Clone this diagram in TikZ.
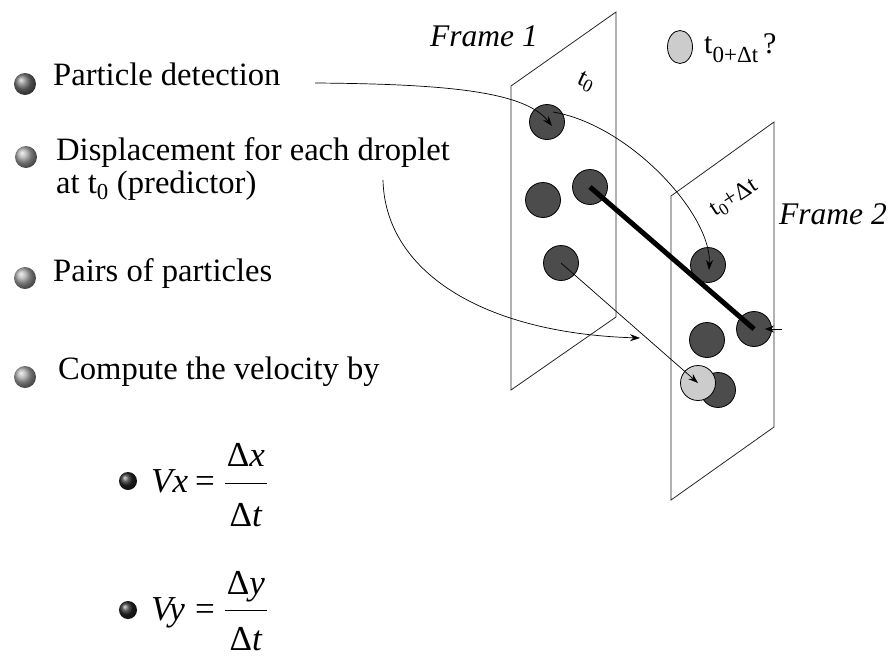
\documentclass[tikz,border=0pt]{standalone}
\usepackage{fontspec}
\setmainfont{Liberation Serif}
\usetikzlibrary{arrows.meta,shapes.geometric}
\begin{document}
\begin{tikzpicture}[x=1pt,y=-1pt,
  darkp/.style={circle,draw=black,fill=black!70,line width=0.8pt,minimum size=35pt,inner sep=0pt},
  lightp/.style={circle,draw=black,fill=black!20,line width=0.8pt,minimum size=35pt,inner sep=0pt},
  plane/.style={draw=black!85,line width=0.8pt},
  conn/.style={line width=0.7pt,-{Stealth[length=10pt,width=7pt]}},
  lbl/.style={font=\fontsize{32.6}{38}\selectfont,anchor=base west,inner sep=0pt},
  flbl/.style={font=\fontsize{31.5}{36}\selectfont\itshape,anchor=base west,inner sep=0pt},
  tlbl/.style={font=\fontsize{26}{30}\selectfont,inner sep=0pt},
  bul/.style={circle,ball color=black!35,minimum size=22pt,inner sep=0pt},
  fbul/.style={circle,ball color=black!85,minimum size=18pt,inner sep=0pt},
  eqn/.style={font=\fontsize{35}{40}\selectfont,anchor=base west,inner sep=0pt},
  frac/.style={font=\fontsize{35}{40}\selectfont,anchor=base,inner sep=0pt}]
\useasboundingbox (0,0) rectangle (894,659);

% frames
\draw[plane] (511,86) -- (616,12) -- (616,317) -- (511,390) -- cycle;
\draw[plane] (671,196) -- (774,122) -- (774,427) -- (671,500) -- cycle;

% frame labels
\node[flbl] (f1) at (430,46) {Frame 1};
\node[flbl] (f2) at (779,224) {Frame 2};
\node[tlbl,rotate=-25] (t0) at (586,82) {t\textsubscript{0}};
\node[tlbl,rotate=33,font=\fontsize{24}{28}\selectfont] (t1) at (734,198) {t\textsubscript{0}+Δt};

% legend
\node[lightp,ellipse,minimum width=25pt,minimum height=33pt] (leg) at (680,47) {};
\node[tlbl,anchor=base west,font=\fontsize{30}{34}\selectfont] (legt) at (704,53) {t\raisebox{-9pt}{\fontsize{23}{28}\selectfont 0+Δt}\,?};

% particles frame 1
\node[darkp] (p1) at (547,122) {};
\node[darkp] (p2) at (543,200) {};
\node[darkp] (p3) at (590,187) {};
\node[darkp] (p4) at (561,263) {};

% particles frame 2
\node[darkp] (q1) at (708,265) {};
\node[darkp] (q2) at (754,329) {};
\node[darkp] (q3) at (707,340) {};
\node[darkp] (q4) at (718,390) {};
\node[lightp] (q5) at (698,383) {};

% connectors between particles
\draw[line width=5pt] (p3.center) -- (q2.center);
\draw[conn] (p4.center) -- (q5.center);
\coordinate (q2r) at (782,329);
\coordinate (q2t) at (765,329);
\draw[conn,-{Stealth[length=9pt,width=7pt]}] (q2r) -- (q2t);
\coordinate (arcs) at (553,112);
\coordinate (q1t) at (709,270);
\draw[conn] (arcs) .. controls (630,125) and (712,215) .. (q1t);

% left labels
\node[bul,ball color=black!55] (b1) at (25,84) {};
\node[lbl] (l1) at (53,85) {Particle detection};
\node[bul] (b2) at (26,157) {};
\node[lbl] (l2) at (56,160) {Displacement for each droplet};
\node[lbl] (l2b) at (56,193) {at t\textsubscript{0} (predictor)};
\node[bul] (b3) at (25,278) {};
\node[lbl] (l3) at (53,281) {Pairs of particles};
\node[bul] (b4) at (25,377) {};
\node[lbl] (l4) at (58,379) {Compute the velocity by};

% curves from labels
\coordinate (pds) at (315,83);
\coordinate (p1t) at (552,126);
\draw[conn] (pds) .. controls (450,84) and (525,92) .. (p1t);
\coordinate (prs) at (383,180);
\coordinate (prt) at (640,338);
\draw[conn] (prs) .. controls (385,270) and (480,333) .. (prt);

% formulas
\node[fbul] (fb1) at (128,481) {};
\node[eqn] (vx) at (151,492) {\textit{Vx}};
\node[eqn] (eq1) at (195,492) {=};
\node[frac] (nx) at (246,466) {Δ\textit{x}};
\node[frac] (dx) at (246,526) {Δ\textit{t}};
\draw[line width=1pt] (225,483) -- (267,483);
\node[fbul] (fb2) at (128,610) {};
\node[eqn] (vy) at (151,620) {\textit{Vy}};
\node[eqn] (eq2) at (195,620) {=};
\node[frac] (ny) at (246,594) {Δ\textit{y}};
\node[frac] (dy) at (246,650) {Δ\textit{t}};
\draw[line width=1pt] (225,610) -- (267,610);
\end{tikzpicture}
\end{document}
